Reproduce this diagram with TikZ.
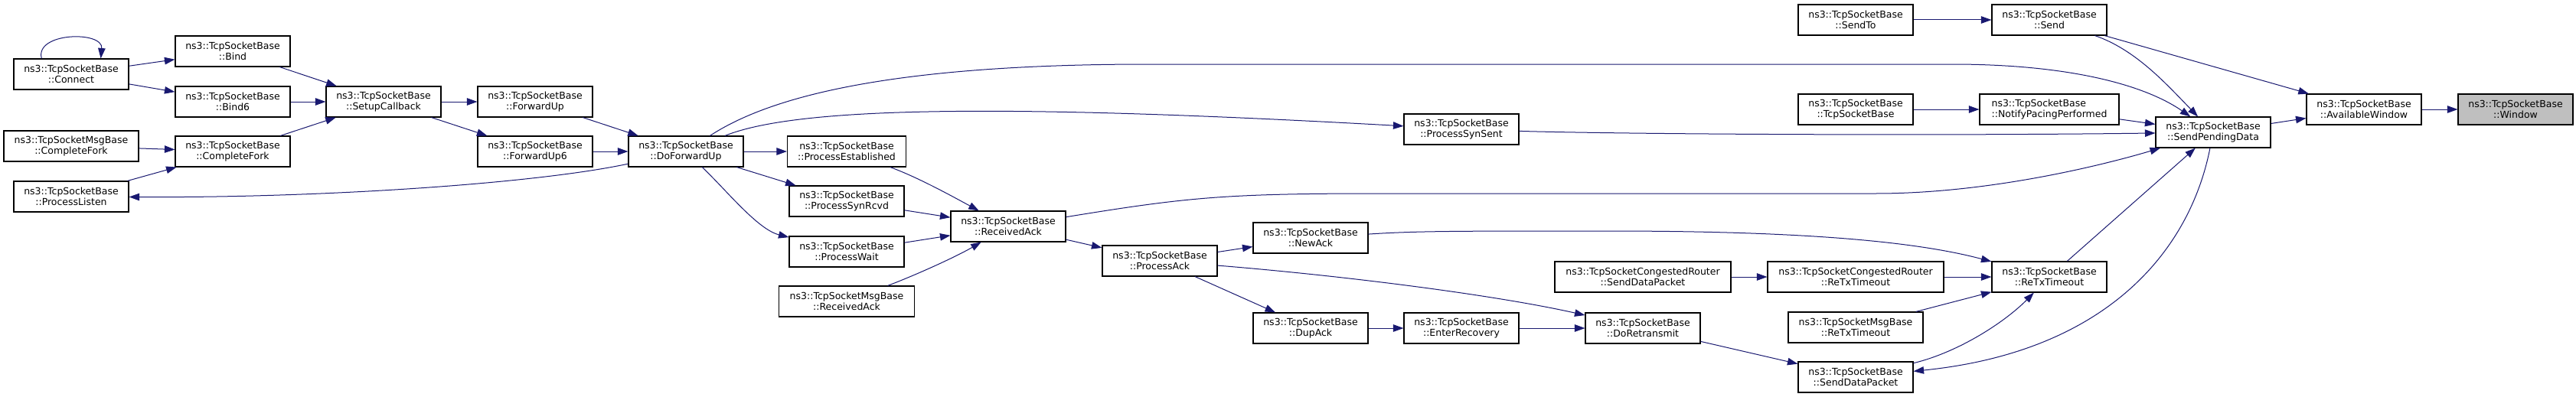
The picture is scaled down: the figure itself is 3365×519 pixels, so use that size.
\documentclass[tikz,border=0pt]{standalone}
\usepackage{fontspec}
\setmainfont{DejaVu Sans}
\usetikzlibrary{arrows.meta}
\definecolor{edgeblue}{HTML}{191970}
\definecolor{focusgrey}{HTML}{BFBFBF}

\begin{document}
\begin{tikzpicture}[x=1pt,y=1pt,->,>={Triangle[length=13.5pt,width=9.5pt]},
                        edgeblue,line width=1pt,
                        main node/.style={rectangle,draw=black,text=black,line width=1.1pt,minimum width=150pt,
                        minimum height=40pt,inner sep=0pt,align=center,font=\fontsize{12.5}{14}\selectfont},
                        focus node/.style={main node,fill=focusgrey}]
                        \useasboundingbox (0,0) rectangle (3365,-519);
                        % callers, left to right
                        \node[main node] (connect) at (93,-97) {ns3::TcpSocketBase\\::Connect};
                        \node[main node,minimum width=176pt] (msgcfork) at (93,-191) {ns3::TcpSocketMsgBase\\::CompleteFork};
                        \node[main node] (plisten) at (93,-257) {ns3::TcpSocketBase\\::ProcessListen};
                        \node[main node] (bind) at (304,-67) {ns3::TcpSocketBase\\::Bind};
                        \node[main node] (bindsix) at (304,-133) {ns3::TcpSocketBase\\::Bind6};
                        \node[main node] (cfork) at (304,-198) {ns3::TcpSocketBase\\::CompleteFork};
                        \node[main node] (setupcb) at (501,-133) {ns3::TcpSocketBase\\::SetupCallback};
                        \node[main node] (fwdup) at (699,-133) {ns3::TcpSocketBase\\::ForwardUp};
                        \node[main node] (fwdupsix) at (699,-198) {ns3::TcpSocketBase\\::ForwardUp6};
                        \node[main node] (dofwd) at (896,-198) {ns3::TcpSocketBase\\::DoForwardUp};
                        \node[main node,minimum width=155pt] (pestab) at (1106,-198) {ns3::TcpSocketBase\\::ProcessEstablished};
                        \node[main node] (psynrcvd) at (1106,-263) {ns3::TcpSocketBase\\::ProcessSynRcvd};
                        \node[main node] (pwait) at (1106,-329) {ns3::TcpSocketBase\\::ProcessWait};
                        \node[main node,minimum width=177pt] (msgrack) at (1106,-394) {ns3::TcpSocketMsgBase\\::ReceivedAck};
                        \node[main node] (rack) at (1317,-296) {ns3::TcpSocketBase\\::ReceivedAck};
                        \node[main node] (pack) at (1515,-341) {ns3::TcpSocketBase\\::ProcessAck};
                        \node[main node] (newack) at (1712,-311) {ns3::TcpSocketBase\\::NewAck};
                        \node[main node] (dupack) at (1712,-429) {ns3::TcpSocketBase\\::DupAck};
                        \node[main node] (psynsent) at (1909,-169) {ns3::TcpSocketBase\\::ProcessSynSent};
                        \node[main node] (enterrec) at (1909,-429) {ns3::TcpSocketBase\\::EnterRecovery};
                        \node[main node,minimum width=230pt] (congsdp) at (2146,-362) {ns3::TcpSocketCongestedRouter\\::SendDataPacket};
                        \node[main node] (doretx) at (2146,-429) {ns3::TcpSocketBase\\::DoRetransmit};
                        \node[main node] (sendto) at (2424,-26) {ns3::TcpSocketBase\\::SendTo};
                        \node[main node] (ctor) at (2424,-143) {ns3::TcpSocketBase\\::TcpSocketBase};
                        \node[main node,minimum width=230pt] (congrto) at (2424,-362) {ns3::TcpSocketCongestedRouter\\::ReTxTimeout};
                        \node[main node,minimum width=176pt] (msgrto) at (2424,-428) {ns3::TcpSocketMsgBase\\::ReTxTimeout};
                        \node[main node] (sdp) at (2424,-493) {ns3::TcpSocketBase\\::SendDataPacket};
                        \node[main node] (send) at (2677,-26) {ns3::TcpSocketBase\\::Send};
                        \node[main node,minimum width=182pt,align=left] (pacing) at (2677,-143) {ns3::TcpSocketBase\\::NotifyPacingPerformed};
                        \node[main node] (rto) at (2677,-362) {ns3::TcpSocketBase\\::ReTxTimeout};
                        \node[main node] (spd) at (2891,-173) {ns3::TcpSocketBase\\::SendPendingData};
                        \node[main node] (avwin) at (3088,-143) {ns3::TcpSocketBase\\::AvailableWindow};
                        \node[focus node] (window) at (3286,-143) {ns3::TcpSocketBase\\::Window};

                        \path
                        (connect) edge (bind)
                        (connect) edge (bindsix)
                        (bind) edge (setupcb)
                        (bindsix) edge (setupcb)
                        (cfork) edge (setupcb)
                        (msgcfork) edge (cfork)
                        (plisten) edge (cfork)
                        (setupcb) edge (fwdup)
                        (setupcb) edge (fwdupsix)
                        (fwdup) edge (dofwd)
                        (fwdupsix) edge (dofwd)
                        (dofwd) edge (pestab)
                        (dofwd) edge (psynrcvd)
                        (psynrcvd) edge (rack)
                        (pwait) edge (rack)
                        (rack) edge (pack)
                        (pack) edge (newack)
                        (pack) edge (dupack)
                        (dupack) edge (enterrec)
                        (enterrec) edge (doretx)
                        (congsdp) edge (congrto)
                        (congrto) edge (rto)
                        (msgrto) edge (rto)
                        (doretx) edge (sdp)
                        (rto) edge (spd)
                        (sendto) edge (send)
                        (send) edge (avwin)
                        (ctor) edge (pacing)
                        (pacing) edge (spd)
                        (spd) edge (avwin)
                        (avwin) edge (window)
                        ;
                        % curved calls
                        \draw (connect.152) .. controls (45,-42) and (135,-40) .. (connect.28);
                        \draw (dofwd) .. controls (700,-240) and (420,-259) .. (plisten);
                        \draw (dofwd) .. controls (1000,-130) and (1150,-84) .. (1500,-84) -- (2550,-84)
                              .. controls (2700,-84) and (2800,-110) .. (spd);
                        \draw (dofwd) .. controls (1040,-140) and (1300,-135) .. (psynsent);
                        \draw (dofwd) .. controls (950,-250) and (990,-300) .. (pwait);
                        \draw (pestab) .. controls (1200,-232) and (1250,-260) .. (rack);
                        \draw (msgrack) .. controls (1200,-358) and (1250,-335) .. (rack);
                        \draw (rack) .. controls (1550,-258) and (1600,-253) .. (1800,-253) -- (2450,-253)
                              .. controls (2600,-253) and (2750,-215) .. (spd);
                        \draw (pack) .. controls (1750,-360) and (1950,-385) .. (doretx);
                        \draw (newack) .. controls (1850,-302) and (1900,-302) .. (2100,-302)
                              .. controls (2350,-302) and (2500,-315) .. (rto);
                        \draw (psynsent) .. controls (2100,-175) and (2500,-178) .. (spd);
                        \draw (sdp) .. controls (2560,-460) and (2620,-420) .. (rto);
                        \draw (spd) .. controls (2860,-330) and (2750,-460) .. (sdp);
                        \draw (send) .. controls (2790,-65) and (2830,-110) .. (spd);
                        \end{tikzpicture}
\end{document}
